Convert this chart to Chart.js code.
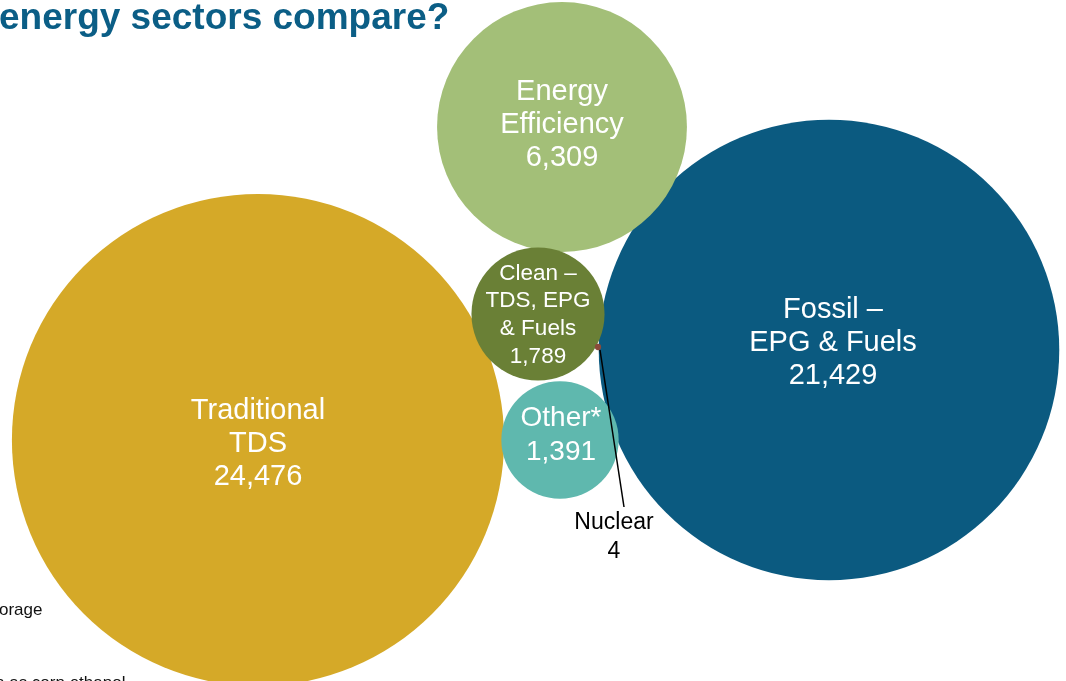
<!DOCTYPE html>
<html>
<head>
<meta charset="utf-8">
<script src="https://cdn.jsdelivr.net/npm/chart.js@4"></script>
<style>
  html, body { margin: 0; padding: 0; background: #fff; overflow: hidden; }
  #wrap { position: relative; width: 1066px; height: 681px; }
  canvas { position: absolute; left: 0; top: 0; }
  .txt { position: absolute; font-family: "Liberation Sans", Arial, sans-serif; white-space: nowrap; }
  #title { left: -1px; top: -4px; font-size: 37px; font-weight: bold; color: #0b5e86; }
  .note { font-size: 17px; color: #111; }
</style>
</head>
<body>
<div id="wrap">
  <canvas id="bubbles" width="1066" height="681"></canvas>
  <div id="title" class="txt">energy sectors compare?</div>
  <div class="txt note" style="left:-1px; top:600px;">orage</div>
  <div class="txt note" style="left:-5px; top:673px;">n as corn ethanol</div>
</div>
<script>
// sectors and employment values
const sectors = ['Traditional TDS', 'Fossil – EPG & Fuels', 'Energy Efficiency', 'Clean – TDS, EPG & Fuels', 'Other*', 'Nuclear'];
const labelLines = [
  ['Traditional', 'TDS'],
  ['Fossil –', 'EPG & Fuels'],
  ['Energy', 'Efficiency'],
  ['Clean –', 'TDS, EPG', '& Fuels'],
  ['Other*'],
  ['Nuclear']
];
const jobs = [24476, 21429, 6309, 1789, 1391, 4];
// bubble placement in the packed layout
const bubbleX = [258, 829, 562, 538, 560, 598];
const bubbleY = [440, 350, 127, 314, 440, 347];
const colors = ['#d5a928', '#0b5a80', '#a3bf78', '#6a8036', '#5fb8ae', '#8a4a3a'];

const sizeScale = 1.573; // px per sqrt(job)
// small nudges so label blocks sit where the original put them
const textDx = [0, 4, 0, 0, 1];
const textDy = [4, -7, -2, 1, -5];

const fmt = v => v.toLocaleString('en-US');

// keep the plot area at full canvas size (no padding for big bubbles)
Chart.BubbleController.prototype.getMaxOverflow = function () { return false; };

const labelPlugin = {
  id: 'bubbleLabels',
  afterDatasetsDraw(chart) {
    const ctx = chart.ctx;
    const meta = chart.getDatasetMeta(0);
    ctx.save();
    ctx.textAlign = 'center';
    ctx.textBaseline = 'middle';
    meta.data.forEach((pt, i) => {
      const lines = labelLines[i].concat(fmt(jobs[i]));
      if (i === 5) {
        // nuclear: label outside with leader line
        const lx = pt.x + 16, ly = pt.y + 175;
        ctx.strokeStyle = '#000';
        ctx.lineWidth = 1.5;
        ctx.beginPath();
        ctx.moveTo(pt.x + 2, pt.y + 3);
        ctx.lineTo(pt.x + 26, pt.y + 160);
        ctx.stroke();
        ctx.fillStyle = '#000';
        ctx.font = '23px "Liberation Sans", Arial, sans-serif';
        lines.forEach((t, k) => ctx.fillText(t, lx, ly + 1 + k * 29));
        return;
      }
      let size = 29, gap = 33;
      if (i === 3) { size = 22.5; gap = 27.7; }
      if (i === 4) { size = 28; gap = 34; }
      ctx.fillStyle = '#fff';
      ctx.font = size + 'px "Liberation Sans", Arial, sans-serif';
      const h = (lines.length - 1) * gap;
      lines.forEach((t, k) => ctx.fillText(t, pt.x + textDx[i], pt.y + textDy[i] - h / 2 + k * gap));
    });
    ctx.restore();
  }
};

new Chart(document.getElementById('bubbles'), {
  type: 'bubble',
  data: {
    labels: sectors,
    datasets: [{
      data: jobs.map((v, i) => ({ x: bubbleX[i], y: bubbleY[i], r: sizeScale * Math.sqrt(v) })),
      backgroundColor: colors,
      borderWidth: 0,
      hoverRadius: 0,
      clip: false
    }]
  },
  options: {
    responsive: false,
    animation: false,
    layout: { padding: 0 },
    plugins: { legend: { display: false }, tooltip: { enabled: false } },
    scales: {
      x: { type: 'linear', min: 0, max: 1066, display: false },
      y: { type: 'linear', min: 0, max: 681, reverse: true, display: false }
    }
  },
  plugins: [labelPlugin]
});
</script>
</body>
</html>
